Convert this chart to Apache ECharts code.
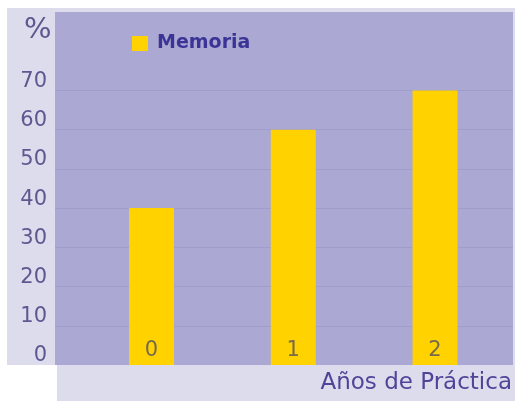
<!DOCTYPE html>
<html>
<head>
<meta charset="utf-8">
<script src="https://cdn.jsdelivr.net/npm/echarts@6/dist/echarts.min.js"></script>
<style>
html,body{margin:0;padding:0;background:#ffffff;}
#chart{width:515px;height:401px;}
</style>
</head>
<body>
<div id="chart"></div>
<script>
var categories = ['0', '1', '2'];
var seriesName = 'Memoria';
var values = [40, 60, 70];
var yTicks = [0, 10, 20, 30, 40, 50, 60, 70];
var xAxisTitle = 'Años de Práctica';
var yAxisTitle = '%';

var chart = echarts.init(document.getElementById('chart'), null, {renderer: 'canvas'});
var gridColor = '#a09ccc';
var lineColors = [];
for (var v = 0; v <= 90; v += 10) {
  lineColors.push((v > 0 && yTicks.indexOf(v) >= 0) ? gridColor : 'rgba(0,0,0,0)');
}

var option = {
  backgroundColor: '#ffffff',
  animation: false,
  graphic: [
    {type: 'rect', z: -10, shape: {x: 7, y: 8, width: 508, height: 357}, style: {fill: '#dddced'}},
    {type: 'rect', z: -10, shape: {x: 57, y: 365, width: 458, height: 36}, style: {fill: '#dddced'}},
    {type: 'text', z: 10, left: 24, top: 16,
     style: {text: yAxisTitle, fontFamily: 'DejaVu Sans', fontSize: 29, fill: '#5d5890'}}
  ],
  legend: {
    left: 127, top: 29,
    itemWidth: 16, itemHeight: 15,
    icon: 'rect',
    data: [seriesName],
    textStyle: {fontFamily: 'DejaVu Sans', fontWeight: 'bold', fontSize: 19, color: '#3b3496', padding: [0, 0, 0, 4]}
  },
  grid: {
    left: 55, right: 2, top: 12, bottom: 36,
    show: true, backgroundColor: '#aba8d3', borderWidth: 0
  },
  xAxis: {
    type: 'value',
    min: -0.681, max: 2.55,
    axisLine: {show: false}, axisTick: {show: false}, axisLabel: {show: false},
    splitLine: {show: false},
    name: xAxisTitle,
    nameLocation: 'end',
    nameGap: -1,
    nameTextStyle: {fontFamily: 'DejaVu Sans', fontSize: 23, color: '#4f4598', align: 'right', verticalAlign: 'top', padding: [7, 0, 0, 0]}
  },
  yAxis: {
    type: 'value',
    min: 0, max: 90, interval: 10,
    axisLine: {show: false}, axisTick: {show: false},
    axisLabel: {
      fontFamily: 'DejaVu Sans', fontSize: 21, color: '#5d5890', margin: 8,
      verticalAlign: 'bottom', lineHeight: 18,
      formatter: function (val) { return yTicks.indexOf(val) >= 0 ? String(val) : ''; }
    },
    splitLine: {show: true, lineStyle: {color: lineColors, width: 1}}
  },
  series: [{
    name: seriesName,
    type: 'bar',
    barWidth: 45,
    itemStyle: {color: '#ffd200'},
    label: {
      show: true, position: 'insideBottom', distance: 4,
      fontFamily: 'DejaVu Sans', fontSize: 21, color: '#7a6a4c',
      formatter: function (p) { return categories[p.dataIndex]; }
    },
    data: categories.map(function (c, i) { return [i, values[i]]; })
  }]
};
chart.setOption(option);
</script>
</body>
</html>
